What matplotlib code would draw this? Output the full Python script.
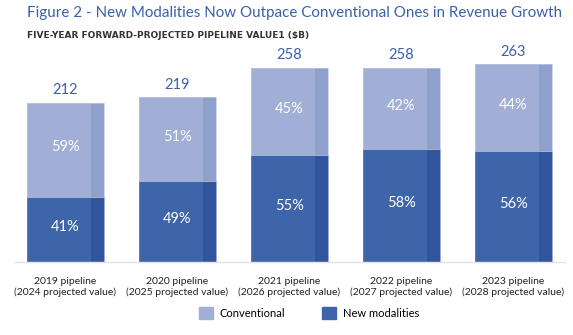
import matplotlib
matplotlib.use("Agg")
import matplotlib.pyplot as plt
import numpy as np

categories = ["2019 pipeline\n(2024 projected value)",
              "2020 pipeline\n(2025 projected value)",
              "2021 pipeline\n(2026 projected value)",
              "2022 pipeline\n(2027 projected value)",
              "2023 pipeline\n(2028 projected value)"]
totals = [212, 219, 258, 258, 263]
new_pct = [41, 49, 55, 58, 56]
conv_pct = [59, 51, 45, 42, 44]

LIGHT = "#a1aed5"
LIGHT_STRIP = "#8fa0cc"
DARK = "#3e64aa"
DARK_STRIP = "#31559c"
BLUE = "#3a60aa"

W, H = 573, 335
fig = plt.figure(figsize=(W / 100, H / 100), dpi=100)
plt.rcParams['font.family'] = ['Lato', 'DejaVu Sans']

# axes placement in pixels
base_px = 262
left_px, right_px = 15, 565
ymax = 300
scale = 0.752
ax = fig.add_axes([left_px / W, (H - base_px) / H, (right_px - left_px) / W, ymax * scale / H])

x = np.arange(len(categories))
spacing = 112.0
c0 = 65.5
ax.set_xlim((left_px - c0) / spacing, (right_px - c0) / spacing)
ax.set_ylim(0, ymax)

bw = 77 / spacing
sw = 13 / spacing

totals_a = np.array(totals, float)
new_v = totals_a * np.array(new_pct) / 100
conv_v = totals_a - new_v

ax.bar(x, new_v, width=bw, color=DARK, linewidth=0)
ax.bar(x, conv_v, width=bw, bottom=new_v, color=LIGHT, linewidth=0)
ax.bar(x + bw / 2 - sw / 2, new_v, width=sw, color=DARK_STRIP, linewidth=0)
ax.bar(x + bw / 2 - sw / 2, conv_v, width=sw, bottom=new_v, color=LIGHT_STRIP, linewidth=0)
# thin light outlines
ax.bar(x, new_v, width=bw, fill=False, edgecolor="#6f8ac0", linewidth=0.5)
ax.bar(x, conv_v, width=bw, bottom=new_v, fill=False, edgecolor="#c0c9e4", linewidth=0.5)

for i in range(len(x)):
    ax.text(x[i], new_v[i] / 2 + 3, f"{new_pct[i]}%", ha="center", va="center",
            color="white", fontsize=10.5)
    ax.text(x[i], new_v[i] + conv_v[i] / 2 + 3, f"{conv_pct[i]}%", ha="center", va="center",
            color="white", fontsize=10.5)
    ax.annotate(f"{totals[i]}", (x[i], totals_a[i]), xytext=(0, 4), textcoords="offset points",
                ha="center", va="bottom", color=BLUE, fontsize=10.5)

for s in ["top", "right", "left"]:
    ax.spines[s].set_visible(False)
ax.spines["bottom"].set_color("#e3e3e3")
ax.spines["bottom"].set_linewidth(1)
ax.set_yticks([])
ax.set_xticks(x)
ax.set_xticklabels(categories, fontsize=7.5, color="#222222", linespacing=1.15)
ax.tick_params(axis="x", length=0, pad=11)

fig.text(27 / W, 1 - 13 / H, "Figure 2 - New Modalities Now Outpace Conventional Ones in Revenue Growth",
         ha="left", va="center", color=BLUE, fontsize=10.9)
fig.text(27 / W, 1 - 35 / H, "FIVE-YEAR FORWARD-PROJECTED PIPELINE VALUE1 ($B)",
         ha="left", va="center", color="#333333", fontsize=6.5, fontweight="bold",
         family="DejaVu Sans")

# legend
from matplotlib.patches import Rectangle
handles = [Rectangle((0, 0), 1, 1, color=LIGHT), Rectangle((0, 0), 1, 1, color=DARK)]
fig.legend(handles, ["Conventional", "New modalities"], loc="center",
           bbox_to_anchor=(309 / W, 1 - 313 / H), ncol=2, frameon=False, fontsize=8.0,
           handlelength=1.25, handleheight=1.25, columnspacing=3.3, handletextpad=0.6)

fig.savefig("out.png", dpi=100)
